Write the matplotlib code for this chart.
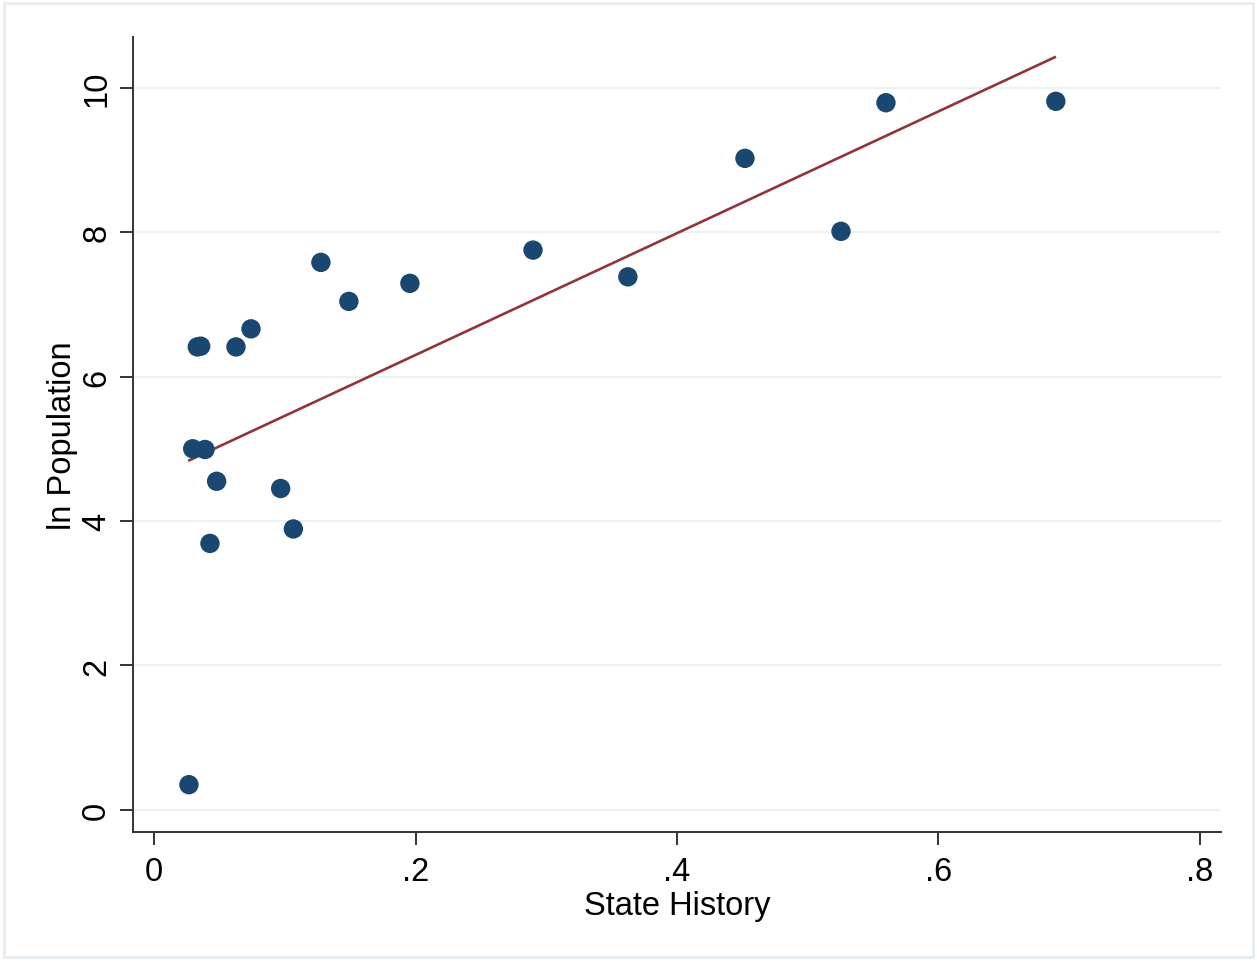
import matplotlib
matplotlib.use("Agg")
import matplotlib.pyplot as plt
from matplotlib.patches import Rectangle

# scatter points
state_history = [0.0265, 0.0294, 0.0388, 0.0329, 0.0355, 0.0477, 0.0426, 0.0625,
                 0.0740, 0.0967, 0.1064, 0.1275, 0.1489, 0.1956, 0.2898, 0.3624,
                 0.4520, 0.5255, 0.5599, 0.6899]
ln_population = [0.35, 5.00, 4.99, 6.41, 6.42, 4.55, 3.69, 6.41,
                 6.66, 4.45, 3.89, 7.58, 7.04, 7.29, 7.75, 7.38,
                 9.02, 8.01, 9.79, 9.81]

# fitted line endpoints
fit_x = [0.0268, 0.6891]
fit_y = [4.84, 10.42]

x_ticks = [0, 0.2, 0.4, 0.6, 0.8]
x_ticklabels = ["0", ".2", ".4", ".6", ".8"]
y_ticks = [0, 2, 4, 6, 8, 10]

plt.rcParams["font.family"] = ["Liberation Sans", "DejaVu Sans"]

W, H = 1257, 962
fig = plt.figure(figsize=(W / 100, H / 100), dpi=100)
fig.patch.set_facecolor("white")

# outer graph border
fig.patches.append(Rectangle((4 / W, 4 / H), 1249 / W, 954 / H, transform=fig.transFigure,
                             fill=False, edgecolor="#e6ecf0", linewidth=2))

ax = fig.add_axes([133 / W, 1 - 833 / H, 1088 / W, 795 / H])

ax.set_yticks(y_ticks)
for y in y_ticks:
    ax.axhline(y, color="#eaf2f3", linewidth=1.6, zorder=0)

ax.plot(fit_x, fit_y, color="#90353b", linewidth=1.9, zorder=3)
ax.scatter(state_history, ln_population, s=195, color="#1a476f", edgecolors="none", zorder=4)

ax.set_xlim(-0.0163, 0.8163)
ax.set_ylim(-0.305, 10.70)

ax.set_xticks(x_ticks)
ax.set_xticklabels(x_ticklabels)
ax.set_yticklabels([str(v) for v in y_ticks], rotation=90, va="center")

ax.tick_params(axis="both", length=9.5, width=1.4, color="#333333", labelsize=23.5)
ax.tick_params(axis="x", pad=8)
ax.tick_params(axis="y", pad=5.5)

for side in ["top", "right"]:
    ax.spines[side].set_visible(False)
for side in ["left", "bottom"]:
    ax.spines[side].set_color("#333333")
    ax.spines[side].set_linewidth(1.4)

ax.set_xlabel("State History", fontsize=23.5, labelpad=2)
ax.set_ylabel("ln Population", fontsize=23.5, labelpad=2)

fig.savefig("out.png", dpi=100)
